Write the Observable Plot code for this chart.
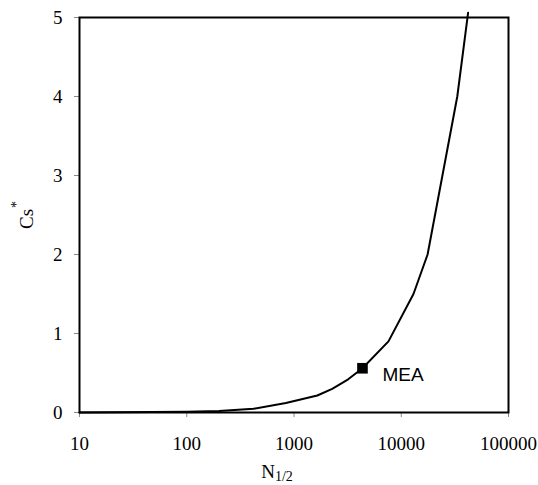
<!DOCTYPE html>
<html><head><meta charset="utf-8">
<script src="https://cdn.jsdelivr.net/npm/d3@7"></script>
<script src="https://cdn.jsdelivr.net/npm/@observablehq/plot@0.6"></script>
<style>body{margin:0;background:#fff}</style>
</head><body><div id="chart"></div>
<script>
// Curve values
const N  = [10, 100, 200, 420, 840, 1650, 2270, 3200, 4350, 7600, 13000, 17600, 33300, 42000];
const Cs = [0.0, 0.01, 0.02, 0.047, 0.12, 0.215, 0.3, 0.42, 0.56, 0.9, 1.5, 2.0, 4.0, 5.06];
// Highlighted point
const markerN = [4350];
const markerCs = [0.56];
const markerLabel = ["MEA"];
// Ticks
const xTicks = [10, 100, 1000, 10000, 100000];
const yTicks = [0, 1, 2, 3, 4, 5];

const curve = N.map((n, i) => ({n, cs: Cs[i]}));
const markers = markerN.map((n, i) => ({n, cs: markerCs[i], label: markerLabel[i]}));

const chart = Plot.plot({
  width: 538, height: 485,
  marginLeft: 79, marginRight: 30, marginTop: 17, marginBottom: 73,
  style: {fontFamily: "Liberation Serif", fontSize: "19px", background: "white", overflow: "visible", color: "black"},
  x: {type: "log", domain: [10, 100000]},
  y: {domain: [0, 5]},
  marks: [
    Plot.axisX({ticks: xTicks, tickFormat: d => String(d), tickSize: 5, tickPadding: 19, stroke: "#888", fill: "black", label: null}),
    Plot.axisY({ticks: yTicks, tickFormat: d => String(d), tickSize: 5, tickPadding: 12, stroke: "#888", fill: "black", label: null}),
    Plot.line(curve, {x: "n", y: "cs", stroke: "black", strokeWidth: 2}),
    Plot.frame({stroke: "black", strokeWidth: 2}),
    Plot.dot(markers, {x: "n", y: "cs", symbol: "square", fill: "black", r: 6}),
    Plot.text(markers, {x: "n", y: "cs", text: "label", dx: 20, dy: 7, textAnchor: "start",
      fontFamily: "Liberation Sans", fontSize: 19, fill: "black"})
  ]
});

const svg = d3.select(chart);
// y-axis title: Cs*
const yt = svg.append("text")
  .attr("transform", "translate(33,229) rotate(-90)")
  .attr("font-family", "Liberation Serif").attr("font-size", 19).attr("fill", "black")
  .attr("text-anchor", "start");
yt.append("tspan").text("Cs");
yt.append("tspan").attr("font-size", 14).attr("dy", -12).attr("dx", 1).text("*");
// x-axis title: N1/2
const xt = svg.append("text")
  .attr("x", 277).attr("y", 478)
  .attr("font-family", "Liberation Serif").attr("font-size", 19).attr("fill", "black");
xt.append("tspan").text("N");
xt.append("tspan").attr("font-size", 14).attr("dy", 3).text("1/2");

document.getElementById("chart").appendChild(chart);
</script>
</body></html>
